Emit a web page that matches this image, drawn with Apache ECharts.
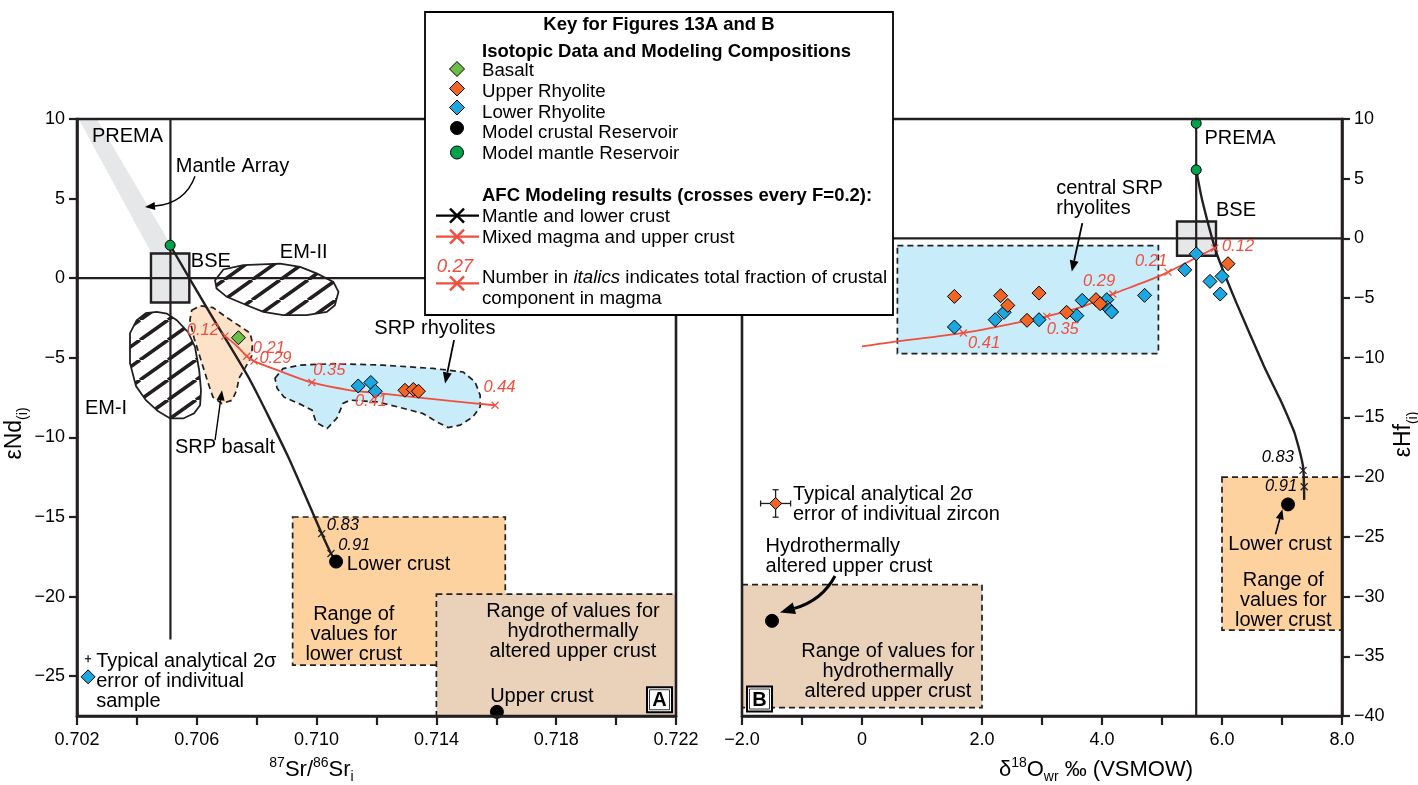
<!DOCTYPE html>
<html>
<head>
<meta charset="utf-8">
<script src="https://cdn.jsdelivr.net/npm/echarts@6/dist/echarts.min.js"></script>
<style>
  html, body { margin: 0; padding: 0; background: #fff; }
  #chart { width: 1418px; height: 785px; }
</style>
</head>
<body>
<div id="chart"></div>
<script>
// ================= Panel A: 87Sr/86Sr(i) vs eNd(i) =================
const ndTickValues = [10, 5, 0, -5, -10, -15, -20, -25];

const aBasalt = [[0.70739, -3.74]];
const aUpperRhyolite = [[0.71295, -7.04], [0.71323, -6.99], [0.71340, -7.10]];
const aLowerRhyolite = [[0.71139, -6.77], [0.71181, -6.55], [0.71196, -7.10]];
const aMantleReservoir = [[0.70511, 2.07]];
const aCrustReservoirs = [[0.71065, -17.8], [0.71602, -27.24]];
const aErrorSample = [[0.70237, -25.04]];
const aErrorCross = [0.70237, -23.9, 0.0001, 0.22];   // x, y, ±x, ±y

// AFC model: mantle melt + lower crust
const aMantleLowerCrust = [[0.70511, 2.07], [0.70644, -2.2], [0.70778, -6.41], [0.70905, -11.22],
  [0.71017, -16.04], [0.71048, -17.29], [0.71065, -17.8]];
const aMantleLowerCrustMarks = [[0.71017, -16.04], [0.71048, -17.29]];
const aMantleLowerCrustF = ['0.83', '0.91'];
// AFC model: mixed magma + upper crust
const aMixedUpperCrust = [[0.70694, -3.64], [0.70731, -4.21], [0.70767, -4.90], [0.70791, -5.21],
  [0.70878, -5.84], [0.70984, -6.55], [0.71112, -7.04], [0.71198, -7.20], [0.71334, -7.49],
  [0.71446, -7.71], [0.71596, -7.98]];
const aMixedMarks = [[0.70694, -3.64], [0.70767, -4.90], [0.70791, -5.21], [0.70984, -6.55],
  [0.71198, -7.20], [0.71596, -7.98]];
const aMixedF = ['0.12', '0.21', '0.29', '0.35', '0.41', '0.44'];

// reservoir fields
const aMantleArray = [[0.70206, 10], [0.70266, 10], [0.70559, 0.63], [0.70476, 0.63]];
const aBSE = [[0.70447, -1.53], [0.70575, 1.55]];
const aPremaSr = 0.70512;
const aPremaSpan = [10, -22.7];
const aEM1 = [[0.70466, -2.12], [0.70500, -2.22], [0.70533, -2.64], [0.70571, -3.39], [0.70594, -4.32],
  [0.70608, -5.78], [0.70614, -7.04], [0.70611, -7.98], [0.70591, -8.48], [0.70555, -8.81],
  [0.70511, -8.81], [0.70470, -8.35], [0.70430, -7.66], [0.70397, -6.78], [0.70377, -5.34],
  [0.70377, -3.45], [0.70399, -2.64], [0.70430, -2.20]];
const aEM2 = [[0.70661, -0.13], [0.70689, 0.55], [0.70755, 0.82], [0.70878, 0.92], [0.70945, 0.71],
  [0.71000, 0.30], [0.71056, -0.23], [0.71073, -0.86], [0.71061, -1.70], [0.71034, -2.12],
  [0.70967, -2.32], [0.70889, -2.32], [0.70822, -2.12], [0.70767, -1.70], [0.70700, -1.17],
  [0.70666, -0.65]];
const aSRPBasaltField = [[0.70583, -2.01], [0.70611, -1.73], [0.70654, -1.85], [0.70694, -2.39],
  [0.70744, -3.02], [0.70778, -3.45], [0.70786, -4.08], [0.70783, -4.90], [0.70761, -5.65],
  [0.70741, -6.28], [0.70733, -7.04], [0.70718, -7.66], [0.70684, -7.88], [0.70654, -7.47],
  [0.70637, -6.53], [0.70614, -5.15], [0.70591, -3.77], [0.70577, -2.64]];
const aSRPRhyoliteField = [[0.70861, -6.28], [0.70888, -5.68], [0.70945, -5.46], [0.71055, -5.37],
  [0.71222, -5.46], [0.71389, -5.67], [0.71489, -5.89], [0.71529, -6.51], [0.71546, -7.35],
  [0.71546, -8.08], [0.71522, -8.71], [0.71479, -9.23], [0.71439, -9.38], [0.71402, -9.03],
  [0.71355, -8.50], [0.71279, -8.12], [0.71202, -7.77], [0.71112, -7.66], [0.71088, -7.87],
  [0.71068, -8.79], [0.71035, -9.44], [0.70998, -9.05], [0.70985, -8.29], [0.70945, -7.91],
  [0.70891, -7.47], [0.70868, -6.91]];
const aLowerCrustRange = [[0.7092, -15], [0.7163, -24.3]];
const aUpperCrustRange = [[0.714, -19.85], [0.722, -27.5]];

// ================= Panel B: d18O(wr) vs eHf(i) =================
const bUpperRhyolite = [[1.54, -4.86], [2.31, -4.80], [2.95, -4.58], [2.43, -5.61], [2.75, -6.86],
  [3.41, -6.19], [3.90, -5.13], [3.97, -5.47], [6.10, -2.12]];
const bLowerRhyolite = [[1.54, -7.42], [2.22, -6.81], [2.37, -6.19], [2.95, -6.81], [3.58, -6.47],
  [3.67, -5.19], [4.08, -5.13], [4.09, -5.78], [4.13, -5.97], [4.16, -6.16], [4.71, -4.77],
  [5.38, -2.63], [5.57, -1.29], [5.80, -3.60], [6.00, -3.18], [5.97, -4.66]];
const bMantleReservoirs = [[5.57, 9.64], [5.57, 5.74]];
const bCrustReservoirs = [[7.1, -22.28], [-1.5, -32.03]];
const bErrorZircon = [-1.44, -22.2, 0.25, 1.15];

const bMantleLowerCrust = [[5.57, 5.74], [5.67, 3.2], [5.91, -1.23], [6.24, -5.4], [6.70, -10.7],
  [6.97, -13.5], [7.12, -15.2], [7.21, -16.3], [7.35, -19.1], [7.37, -21.9]];
const bMantleLowerCrustMarks = [[7.35, -19.43], [7.37, -20.8]];
const bMantleLowerCrustF = ['0.83', '0.91'];
const bMixedUpperCrust = [[0.0, -9.05], [0.47, -8.7], [1.69, -7.92], [2.69, -6.95], [3.08, -6.53],
  [3.69, -5.69], [4.18, -4.66], [4.69, -3.69], [5.10, -2.82], [5.88, -0.81]];
const bMixedMarks = [[1.69, -7.92], [3.08, -6.53], [4.18, -4.66], [5.10, -2.82], [5.88, -0.81]];
const bMixedF = ['0.41', '0.35', '0.29', '0.21', '0.12'];

const bBSE = [[5.25, -1.45], [5.9, 1.41]];
const bPremaO = 5.57;
const bPremaSpan = [9.64, -40];
const bCentralField = [[0.59, -0.6], [4.94, -9.65]];
const bLowerCrustRange = [[6.0, -20], [8.0, -32.8]];
const bUpperCrustRange = [[-2.0, -29], [2.0, -39.3]];

// ================= styling =================
const FONT = '"Liberation Sans", Arial, Helvetica, sans-serif';
const INK = '#231f20';
const RED = '#f04e3e';
const ORANGE = '#f26522';
const BLUE = '#1ba8e0';
const LIME = '#6abd45';
const GREEN = '#00a14b';
const LIGHTBLUE = '#c8ecf9';
const PEACH = '#fde2c7';
const LOWERCRUST = '#fdd29f';
const UPPERCRUST = '#e9d1ba';
const GREY = '#e6e7e8';

function hatchPattern() {
  const w = 28, h = 20;
  const c = document.createElement('canvas');
  c.width = w; c.height = h;
  const g = c.getContext('2d');
  g.fillStyle = '#fff';
  g.fillRect(0, 0, w, h);
  g.strokeStyle = INK;
  g.lineWidth = 3.6;
  g.beginPath();
  for (const k of [-1, 0, 1]) { g.moveTo(k * w, h); g.lineTo(k * w + w, 0); }
  g.stroke();
  return { image: c, repeat: 'repeat' };
}
const HATCH = hatchPattern();

function polygonSeries(gi, pts, style, z) {
  return {
    type: 'custom', xAxisIndex: gi, yAxisIndex: gi, z: z, silent: true, animation: false,
    data: [pts[0]],
    renderItem: (params, api) => ({
      type: 'polygon', shape: { points: pts.map(p => api.coord(p)) }, style: style
    })
  };
}
function rectPts(r) {
  return [[r[0][0], r[0][1]], [r[1][0], r[0][1]], [r[1][0], r[1][1]], [r[0][0], r[1][1]]];
}
function linesSeries(gi, lines, style, z) {
  return {
    type: 'custom', xAxisIndex: gi, yAxisIndex: gi, z: z, silent: true, animation: false,
    data: [lines[0][0]],
    renderItem: (params, api) => ({
      type: 'group',
      children: lines.map(l => ({ type: 'polyline', shape: { points: l.map(p => api.coord(p)) }, style: style }))
    })
  };
}
function crossSeries(gi, pts, color, half, lw, z) {
  return {
    type: 'custom', xAxisIndex: gi, yAxisIndex: gi, z: z, silent: true, animation: false,
    data: pts,
    renderItem: (params, api) => {
      const c = api.coord([api.value(0), api.value(1)]);
      const st = { stroke: color, lineWidth: lw };
      return { type: 'group', children: [
        { type: 'line', shape: { x1: c[0] - half, y1: c[1] - half, x2: c[0] + half, y2: c[1] + half }, style: st },
        { type: 'line', shape: { x1: c[0] - half, y1: c[1] + half, x2: c[0] + half, y2: c[1] - half }, style: st }
      ] };
    }
  };
}
function errorBarSeries(gi, e, cap, z) {
  return {
    type: 'custom', xAxisIndex: gi, yAxisIndex: gi, z: z, silent: true, animation: false,
    data: [[e[0], e[1]]],
    renderItem: (params, api) => {
      const l = api.coord([e[0] - e[2], e[1]]), r = api.coord([e[0] + e[2], e[1]]);
      const t = api.coord([e[0], e[1] + e[3]]), b = api.coord([e[0], e[1] - e[3]]);
      const st = { stroke: INK, lineWidth: 1.3 };
      const ch = [
        { type: 'line', shape: { x1: l[0], y1: l[1], x2: r[0], y2: r[1] }, style: st },
        { type: 'line', shape: { x1: t[0], y1: t[1], x2: b[0], y2: b[1] }, style: st }
      ];
      if (cap) {
        ch.push({ type: 'line', shape: { x1: l[0], y1: l[1] - cap, x2: l[0], y2: l[1] + cap }, style: st });
        ch.push({ type: 'line', shape: { x1: r[0], y1: r[1] - cap, x2: r[0], y2: r[1] + cap }, style: st });
        ch.push({ type: 'line', shape: { x1: t[0] - cap, y1: t[1], x2: t[0] + cap, y2: t[1] }, style: st });
        ch.push({ type: 'line', shape: { x1: b[0] - cap, y1: b[1], x2: b[0] + cap, y2: b[1] }, style: st });
      }
      return { type: 'group', children: ch };
    }
  };
}
function curveSeries(gi, data, color, width, z, smooth) {
  return {
    type: 'line', xAxisIndex: gi, yAxisIndex: gi, data: data, smooth: smooth,
    symbol: 'none', lineStyle: { color: color, width: width }, z: z, silent: true, animation: false
  };
}
function pointSeries(gi, data, symbol, size, color, z) {
  return {
    type: 'scatter', xAxisIndex: gi, yAxisIndex: gi, data: data, symbol: symbol, symbolSize: size,
    itemStyle: { color: color, borderColor: '#000', borderWidth: 1, opacity: 1 }, z: z,
    silent: true, animation: false
  };
}

const dashed = (fill) => ({ fill: fill, stroke: INK, lineWidth: 1.7, lineDash: [6, 4] });
const minus = v => (v < 0 ? '\u2212' + Math.abs(v) : String(v));

const axisCommon = {
  axisLine: { show: true, onZero: false, lineStyle: { color: INK, width: 2.6 } },
  splitLine: { show: false },
  z: 20
};
const supSub = {
  sup: { fontSize: 14, verticalAlign: 'top', lineHeight: 24, fontFamily: FONT, color: '#000' },
  sub: { fontSize: 14, verticalAlign: 'bottom', lineHeight: 28, fontFamily: FONT, color: '#000' }
};

const chart = echarts.init(document.getElementById('chart'), null, { renderer: 'canvas' });

const option = {
  backgroundColor: '#fff',
  animation: false,
  textStyle: { fontFamily: FONT },
  grid: [
    { left: 77, top: 119, width: 599, height: 597, show: true, borderColor: INK, borderWidth: 2.6,
      backgroundColor: 'transparent', z: 20, containLabel: false, outerBoundsMode: 'none' },
    { left: 742, top: 119, width: 600, height: 597, show: true, borderColor: INK, borderWidth: 2.6,
      backgroundColor: 'transparent', z: 20, containLabel: false, outerBoundsMode: 'none' }
  ],
  xAxis: [
    Object.assign({}, axisCommon, {
      type: 'value', gridIndex: 0, min: 0.702, max: 0.722, interval: 0.002,
      axisTick: { show: true, length: 9, lineStyle: { color: INK, width: 2.2 } },
      axisLabel: { color: '#000', fontSize: 18, fontFamily: FONT, margin: 15,
        formatter: v => (Math.round((v - 0.702) / 0.002) % 2 === 0 ? v.toFixed(3) : '') },
      name: '{sup|87}Sr/{sup|86}Sr{sub|i}', nameLocation: 'middle', nameGap: 40,
      nameTextStyle: { color: '#000', fontSize: 22, fontFamily: FONT, padding: [0, 130, 0, 0], rich: supSub }
    }),
    Object.assign({}, axisCommon, {
      type: 'value', gridIndex: 1, min: -2, max: 8, interval: 1,
      axisTick: { show: true, length: 9, lineStyle: { color: INK, width: 2.2 } },
      axisLabel: { color: '#000', fontSize: 18, fontFamily: FONT, margin: 15,
        formatter: v => {
          const r = Math.round(v);
          if (r % 2 !== 0) return '';
          if (r === 0) return '0';
          return (r < 0 ? '\u2212' : '') + Math.abs(r).toFixed(1);
        } },
      name: '\u03b4{sup|18}O{sub|wr} \u2030 (VSMOW)', nameLocation: 'middle', nameGap: 40,
      nameTextStyle: { color: '#000', fontSize: 22, fontFamily: FONT, padding: [0, 0, 0, 108], rich: supSub }
    })
  ],
  yAxis: [
    Object.assign({}, axisCommon, {
      type: 'value', gridIndex: 0, min: -27.5, max: 10,
      axisTick: { show: true, length: 8, customValues: ndTickValues, lineStyle: { color: INK, width: 2.2 } },
      axisLabel: { color: '#000', fontSize: 18, fontFamily: FONT, margin: 12,
        customValues: ndTickValues, formatter: minus },
      name: '\u03b5Nd{sub|(i)}', nameLocation: 'middle', nameGap: 44, nameRotate: 90,
      nameTextStyle: { color: '#000', fontSize: 23, fontFamily: FONT, padding: [0, 32, 0, 0],
        rich: { sub: { fontSize: 14, verticalAlign: 'bottom', lineHeight: 32, fontFamily: FONT, color: '#000' } } }
    }),
    Object.assign({}, axisCommon, {
      type: 'value', gridIndex: 1, min: -40, max: 10, interval: 5, position: 'right',
      axisTick: { show: true, length: 8, lineStyle: { color: INK, width: 2.2 } },
      axisLabel: { color: '#000', fontSize: 18, fontFamily: FONT, margin: 12, formatter: minus },
      name: '\u03b5Hf{sub|(i)}', nameLocation: 'middle', nameGap: 46, nameRotate: 90,
      nameTextStyle: { color: '#000', fontSize: 23, fontFamily: FONT, padding: [0, 34, 0, 0],
        rich: { sub: { fontSize: 14, verticalAlign: 'bottom', lineHeight: 32, fontFamily: FONT, color: '#000' } } }
    })
  ],
  series: [
    // ---- panel A fields ----
    polygonSeries(0, rectPts(aLowerCrustRange), dashed(LOWERCRUST), 1),
    polygonSeries(0, rectPts(aUpperCrustRange), dashed(UPPERCRUST), 1.1),
    polygonSeries(0, aMantleArray, { fill: GREY }, 1.2),
    polygonSeries(0, rectPts(aBSE), { fill: GREY, stroke: INK, lineWidth: 2.4 }, 1.3),
    polygonSeries(0, aEM1, { fill: HATCH, stroke: INK, lineWidth: 1.8 }, 1.4),
    polygonSeries(0, aEM2, { fill: HATCH, stroke: INK, lineWidth: 1.8 }, 1.4),
    polygonSeries(0, aSRPBasaltField, dashed(PEACH), 1.5),
    polygonSeries(0, aSRPRhyoliteField, dashed(LIGHTBLUE), 1.5),
    linesSeries(0, [[[aPremaSr, aPremaSpan[0]], [aPremaSr, aPremaSpan[1]]], [[0.702, 0], [0.722, 0]]],
      { stroke: INK, lineWidth: 2.2, fill: null }, 3),
    curveSeries(0, aMantleLowerCrust, INK, 2.4, 4, 0.2),
    curveSeries(0, aMixedUpperCrust, RED, 1.8, 4.1, 0.3),
    crossSeries(0, aMantleLowerCrustMarks, INK, 3.5, 1.2, 4.2),
    crossSeries(0, aMixedMarks, RED, 3.5, 1.2, 4.2),
    errorBarSeries(0, aErrorCross, 0, 5),
    pointSeries(0, aLowerRhyolite, 'diamond', 14, BLUE, 6),
    pointSeries(0, aUpperRhyolite, 'diamond', 14, ORANGE, 6.1),
    pointSeries(0, aBasalt, 'diamond', 14, LIME, 6.2),
    pointSeries(0, aErrorSample, 'diamond', 14, BLUE, 6),
    pointSeries(0, aMantleReservoir, 'circle', 10, GREEN, 6.3),
    pointSeries(0, aCrustReservoirs, 'circle', 13, '#000', 6.3),

    // ---- panel B fields ----
    polygonSeries(1, rectPts(bUpperCrustRange), dashed(UPPERCRUST), 1),
    polygonSeries(1, rectPts(bLowerCrustRange), dashed(LOWERCRUST), 1),
    polygonSeries(1, rectPts(bCentralField), dashed(LIGHTBLUE), 1.1),
    polygonSeries(1, rectPts(bBSE), { fill: GREY, stroke: INK, lineWidth: 2.4 }, 1.3),
    linesSeries(1, [[[bPremaO, bPremaSpan[0]], [bPremaO, bPremaSpan[1]]], [[-2, 0], [8, 0]]],
      { stroke: INK, lineWidth: 2.2, fill: null }, 3),
    curveSeries(1, bMantleLowerCrust, INK, 2.4, 4, 0.2),
    curveSeries(1, bMixedUpperCrust, RED, 1.8, 4.1, 0.3),
    crossSeries(1, bMantleLowerCrustMarks, INK, 3.5, 1.2, 4.2),
    crossSeries(1, bMixedMarks, RED, 3.5, 1.2, 4.2),
    errorBarSeries(1, bErrorZircon, 3, 5),
    pointSeries(1, [[bErrorZircon[0], bErrorZircon[1]]], 'diamond', 12, ORANGE, 6),
    pointSeries(1, bLowerRhyolite, 'diamond', 14, BLUE, 6),
    pointSeries(1, bUpperRhyolite, 'diamond', 14, ORANGE, 6.1),
    pointSeries(1, bMantleReservoirs, 'circle', 10, GREEN, 6.3),
    pointSeries(1, bCrustReservoirs, 'circle', 13, '#000', 6.3)
  ]
};
chart.setOption(option);

// ================= annotations (anchored in data space) =================
const T = 20;
const notes = [
  // panel A
  { g: 0, at: [0.7025, 8.9], text: 'PREMA', align: 'left' },
  { g: 0, at: [0.7053, 6.99], text: 'Mantle Array', align: 'left' },
  { g: 0, at: [0.7058, 1.02], text: 'BSE', align: 'left' },
  { g: 0, at: [0.70957, 1.59], text: 'EM-II', align: 'center' },
  { g: 0, at: [0.70297, -8.17], text: 'EM-I', align: 'center' },
  { g: 0, at: [0.70527, -10.63], text: 'SRP basalt', align: 'left' },
  { g: 0, at: [0.71395, -3.16], text: 'SRP rhyolites', align: 'center' },
  { g: 0, at: [0.71101, -18.0], text: 'Lower crust', align: 'left' },
  { g: 0, at: [0.71124, -22.36], text: 'Range of\nvalues for\nlower crust', align: 'center', lh: 20 },
  { g: 0, at: [0.71856, -22.2], text: 'Range of values for\nhydrothermally\naltered upper crust', align: 'center', lh: 20 },
  { g: 0, at: [0.71752, -26.3], text: 'Upper crust', align: 'center' },
  { g: 0, at: [0.70264, -25.36], text: 'Typical analytical 2\u03c3\nerror of indivitual\nsample', align: 'left', lh: 20 },
  // panel B
  { g: 1, at: [5.708, 8.41], text: 'PREMA', align: 'left' },
  { g: 1, at: [5.9, 2.31], text: 'BSE', align: 'left' },
  { g: 1, at: [3.237, 3.37], text: 'central SRP\nrhyolites', align: 'left', lh: 20 },
  { g: 1, at: [6.967, -25.62], text: 'Lower crust', align: 'center' },
  { g: 1, at: [7.022, -30.36], text: 'Range of\nvalues for\nlower crust', align: 'center', lh: 20 },
  { g: 1, at: [0.433, -36.24], text: 'Range of values for\nhydrothermally\naltered upper crust', align: 'center', lh: 20 },
  { g: 1, at: [-1.607, -26.6], text: 'Hydrothermally\naltered upper crust', align: 'left', lh: 20 },
  { g: 1, at: [-1.15, -22.27], text: 'Typical analytical 2\u03c3\nerror of indivitual zircon', align: 'left', lh: 20 }
];
// fraction labels next to the AFC crosses
const fracLabelPos = {
  a: { mixed: [[0.70674, -3.27, 'right'], [0.70787, -4.42, 'left'], [0.70809, -5.04, 'left'],
               [0.70989, -5.78, 'left'], [0.71128, -7.77, 'left'], [0.71557, -6.83, 'left']],
       lower: [[0.71034, -15.52, 'left'], [0.71072, -16.77, 'left']] },
  b: { mixed: [[1.767, -8.81, 'left'], [3.078, -7.64, 'left'], [3.683, -3.6, 'left'],
               [4.55, -1.93, 'left'], [5.999, -0.68, 'left']],
       lower: [[6.663, -18.37, 'left'], [6.717, -20.8, 'left']] }
};
const arrows = [
  { g: 0, pts: [[0.70594, 6.41], [0.70561, 4.71], [0.70427, 4.48]], lw: 1.4, head: 10, hw: 4 },
  { g: 0, pts: [[0.70661, -10.18], [0.70684, -7.04]], lw: 1.4, head: 10, hw: 4 },
  { g: 0, pts: [[0.71459, -3.89], [0.71429, -6.61]], lw: 1.8, head: 11, hw: 4.5 },
  { g: 1, pts: [[3.672, 1.28], [3.497, -2.77]], lw: 1.8, head: 11, hw: 4.5 },
  { g: 1, pts: [[6.892, -24.78], [7.007, -22.69]], lw: 1.6, head: 10, hw: 4 },
  { g: 1, pts: [[-0.45, -28.27], [-0.667, -30.32], [-1.367, -31.33]], lw: 3, head: 15, hw: 6 }
];
const panelTags = [{ g: 0, at: [0.72145, -26.48], text: 'A' }, { g: 1, at: [-1.708, -38.58], text: 'B' }];

function px(g, p) { return chart.convertToPixel({ xAxisIndex: g, yAxisIndex: g }, p); }

function textEl(x, y, text, o) {
  o = o || {};
  return {
    type: 'text', x: x, y: y, z: 60, silent: true,
    style: {
      text: text, fill: o.fill || '#000', fontSize: o.size || T, fontFamily: FONT,
      fontStyle: o.italic ? 'italic' : 'normal', fontWeight: o.bold ? 'bold' : 'normal',
      align: o.align || 'left', verticalAlign: 'middle', lineHeight: o.lh || Math.round((o.size || T) * 1.1),
      rich: o.rich
    }
  };
}
function arrowEls(P, a) {
  const end = P[P.length - 1], prev = P[P.length - 2];
  const ang = Math.atan2(end[1] - prev[1], end[0] - prev[0]);
  const base = [end[0] - Math.cos(ang) * a.head, end[1] - Math.sin(ang) * a.head];
  const st = { stroke: '#000', lineWidth: a.lw, fill: null };
  const els = [];
  if (P.length === 3) {
    els.push({ type: 'bezierCurve', z: 60, silent: true,
      shape: { x1: P[0][0], y1: P[0][1], cpx1: P[1][0], cpy1: P[1][1], x2: base[0], y2: base[1] }, style: st });
  } else {
    els.push({ type: 'line', z: 60, silent: true,
      shape: { x1: P[0][0], y1: P[0][1], x2: base[0], y2: base[1] }, style: st });
  }
  const L = [base[0] + Math.sin(ang) * a.hw, base[1] - Math.cos(ang) * a.hw];
  const R = [base[0] - Math.sin(ang) * a.hw, base[1] + Math.cos(ang) * a.hw];
  els.push({ type: 'polygon', z: 60, silent: true, shape: { points: [end, L, R] }, style: { fill: '#000' } });
  return els;
}

const graphics = [];
notes.forEach(n => {
  const p = px(n.g, n.at);
  graphics.push(textEl(p[0], p[1], n.text, { align: n.align, lh: n.lh }));
});
[['a', 0, aMixedF, aMantleLowerCrustF], ['b', 1, bMixedF, bMantleLowerCrustF]].forEach(([k, g, mf, lf]) => {
  fracLabelPos[k].mixed.forEach((q, i) => {
    const p = px(g, [q[0], q[1]]);
    graphics.push(textEl(p[0], p[1], mf[i], { italic: true, fill: RED, size: 16.5, align: q[2] }));
  });
  fracLabelPos[k].lower.forEach((q, i) => {
    const p = px(g, [q[0], q[1]]);
    graphics.push(textEl(p[0], p[1], lf[i], { italic: true, fill: '#000', size: 16.5, align: q[2] }));
  });
});
arrows.forEach(a => {
  const P = a.pts.map(q => px(a.g, q));
  arrowEls(P, a).forEach(e => graphics.push(e));
});
panelTags.forEach(t => {
  const p = px(t.g, t.at);
  graphics.push({ type: 'rect', z: 60, silent: true, shape: { x: p[0] - 12.5, y: p[1] - 12.5, width: 25, height: 25 },
    style: { fill: '#fff', stroke: '#000', lineWidth: 2 } });
  graphics.push({ type: 'rect', z: 60, silent: true, shape: { x: p[0] - 10, y: p[1] - 10, width: 20, height: 20 },
    style: { fill: null, stroke: '#000', lineWidth: 0.8 } });
  graphics.push(textEl(p[0], p[1] + 1, t.text, { bold: true, size: 20, align: 'center' }));
});

// ---------------- key box ----------------
const key = [];
const KX = 425, KY = 12, KW = 468, KH = 303;
const KS = 18.7, KB = 18.5;
key.push({ type: 'rect', shape: { x: KX, y: KY, width: KW, height: KH }, style: { fill: '#fff', stroke: '#000', lineWidth: 1.8 } });
key.push(textEl(KX + KW / 2, 25, 'Key for Figures 13A and B', { bold: true, size: KB, align: 'center' }));
key.push(textEl(482, 52, 'Isotopic Data and Modeling Compositions', { bold: true, size: KB }));
const keyItems = [
  { y: 71, sy: 69, text: 'Basalt', sym: 'diamond', color: LIME },
  { y: 92.3, sy: 88.5, text: 'Upper Rhyolite', sym: 'diamond', color: ORANGE },
  { y: 113.3, sy: 107.5, text: 'Lower Rhyolite', sym: 'diamond', color: BLUE },
  { y: 133.3, sy: 128, text: 'Model crustal Reservoir', sym: 'circle', color: '#000' },
  { y: 154.3, sy: 152.5, text: 'Model mantle Reservoir', sym: 'circle', color: GREEN }
];
keyItems.forEach(it => {
  if (it.sym === 'diamond') {
    key.push({ type: 'polygon', shape: { points: [[457, it.sy - 7.5], [464.5, it.sy], [457, it.sy + 7.5], [449.5, it.sy]] },
      style: { fill: it.color, stroke: '#000', lineWidth: 1 } });
  } else {
    key.push({ type: 'circle', shape: { cx: 457, cy: it.sy, r: 6.5 }, style: { fill: it.color, stroke: '#000', lineWidth: 1 } });
  }
  key.push(textEl(482, it.y, it.text, { size: KS }));
});
key.push(textEl(482, 195.7, 'AFC Modeling results (crosses every F=0.2):', { bold: true, size: KB }));
function keyLine(y, color) {
  key.push({ type: 'line', shape: { x1: 436, y1: y, x2: 479, y2: y }, style: { stroke: color, lineWidth: 2.2 } });
  key.push({ type: 'line', shape: { x1: 450, y1: y - 7, x2: 464, y2: y + 7 }, style: { stroke: color, lineWidth: 2.4 } });
  key.push({ type: 'line', shape: { x1: 450, y1: y + 7, x2: 464, y2: y - 7 }, style: { stroke: color, lineWidth: 2.4 } });
}
keyLine(215.7, '#000');
key.push(textEl(482, 216.7, 'Mantle and lower crust', { size: KS }));
keyLine(236.7, RED);
key.push(textEl(482, 237.7, 'Mixed magma and upper crust', { size: KS }));
key.push(textEl(455, 267, '0.27', { italic: true, fill: RED, size: KS, align: 'center' }));
keyLine(283.3, RED);
key.push(textEl(482, 278.3, '{n|Number in }{i|italics}{n| indicates total fraction of crustal}',
  { size: KS, rich: { n: { fontSize: KS, fontFamily: FONT, fill: '#000' },
                      i: { fontSize: KS, fontFamily: FONT, fontStyle: 'italic', fill: '#000' } } }));
key.push(textEl(482, 299, 'component in magma', { size: KS }));
key.forEach(e => { e.z = 100; e.silent = true; });

chart.setOption({ graphic: { elements: graphics.concat(key) } });
</script>
</body>
</html>
